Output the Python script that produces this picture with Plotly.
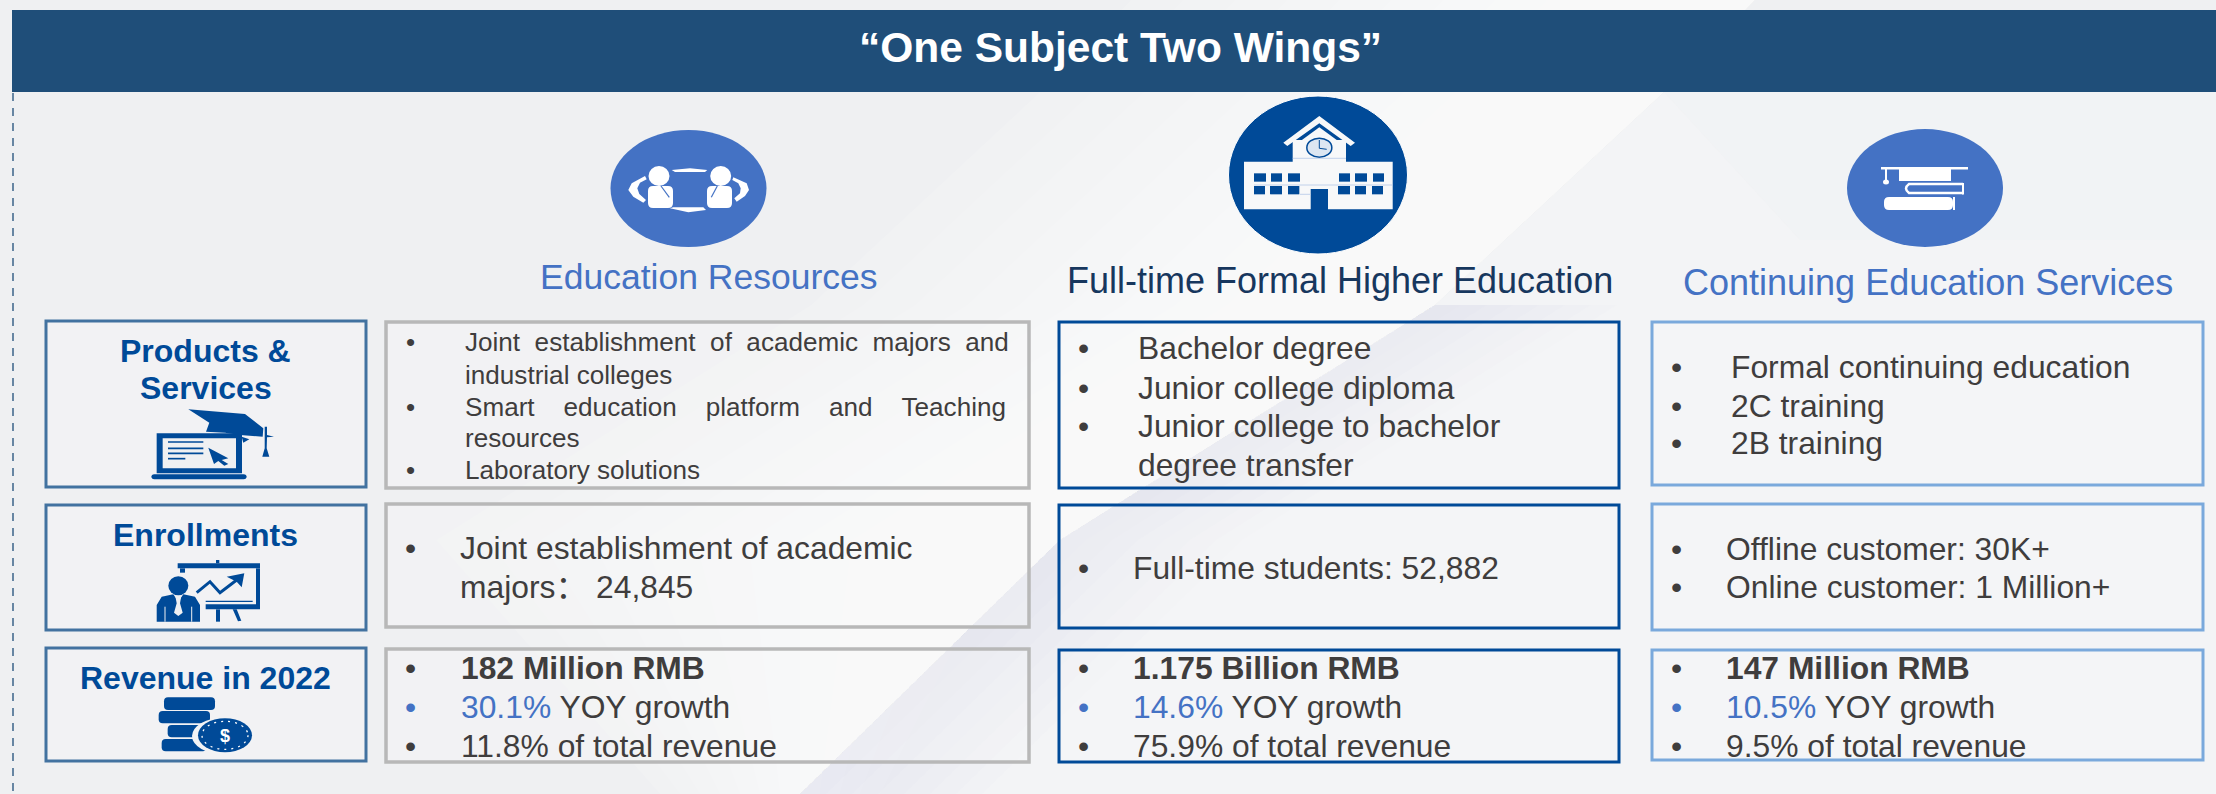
import plotly.graph_objects as go

# ---------- content ----------
title_text = "“One Subject Two Wings”"
section_titles = ["Education Resources", "Full-time Formal Higher Education", "Continuing Education Services"]
row_labels = [["Products &", "Services"], ["Enrollments"], ["Revenue in 2022"]]
NB = "\u00a0"
products_a = [
    ("•", f"Joint{NB*2}establishment{NB*2}of{NB*2}academic{NB*2}majors{NB*2}and"),
    ("", "industrial colleges"),
    ("•", f"Smart{NB*4}education{NB*4}platform{NB*4}and{NB*4}Teaching"),
    ("", "resources"),
    ("•", "Laboratory solutions"),
]
products_b = [("•", "Bachelor degree"), ("•", "Junior college diploma"),
              ("•", "Junior college to bachelor"), ("", "degree transfer")]
products_c = [("•", "Formal continuing education"), ("•", "2C training"), ("•", "2B training")]
enroll_a = [("•", "Joint establishment of academic"), ("", "majors： 24,845")]
enroll_b = [("•", "Full-time students: 52,882")]
enroll_c = [("•", "Offline customer: 30K+"), ("•", "Online customer: 1 Million+")]
revenue_values = ["182 Million RMB", "1.175 Billion RMB", "147 Million RMB"]
yoy_values = ["30.1%", "14.6%", "10.5%"]
share_values = ["11.8% of total revenue", "75.9% of total revenue", "9.5% of total revenue"]

# ---------- style ----------
FONT = "Liberation Sans, Arial, Noto Sans CJK SC, sans-serif"
NAVY = "#1F4E79"; BLUE = "#004A98"; MID = "#4472C4"; DARK = "#17375E"
TXT = "#3F3D3D"; GREY = "#B8B8B8"; LIGHT = "#7AA9DC"; LABEL = "#4272A0"
BODY = 31.8
shapes, ann = [], []

def poly(pts, fill, op=1.0, layer="above", close=True):
    d = "M " + " L ".join(f"{x:.1f},{y:.1f}" for x, y in pts) + (" Z" if close else "")
    shapes.append(dict(type="path", path=d, fillcolor=fill, opacity=op, layer=layer, line=dict(width=0)))

def rect(x0, y0, x1, y1, fill=None, line=None, w=0, op=1.0, rx=0):
    if rx:
        d = (f"M {x0+rx},{y0} L {x1-rx},{y0} Q {x1},{y0} {x1},{y0+rx} L {x1},{y1-rx} Q {x1},{y1} {x1-rx},{y1} "
             f"L {x0+rx},{y1} Q {x0},{y1} {x0},{y1-rx} L {x0},{y0+rx} Q {x0},{y0} {x0+rx},{y0} Z")
        shapes.append(dict(type="path", path=d, fillcolor=fill, line=dict(width=0)))
    else:
        shapes.append(dict(type="rect", x0=x0, y0=y0, x1=x1, y1=y1, fillcolor=fill or "rgba(0,0,0,0)", opacity=op,
                           line=dict(color=line or "rgba(0,0,0,0)", width=w)))

def ell(cx, cy, rx, ry, fill=None, line=None, w=0, dash=None):
    shapes.append(dict(type="circle", x0=cx-rx, x1=cx+rx, y0=cy-ry, y1=cy+ry,
                       fillcolor=fill or "rgba(0,0,0,0)",
                       line=dict(color=line or "rgba(0,0,0,0)", width=w, dash=dash or "solid")))

def stroke(pts, color, w, dash=None):
    d = "M " + " L ".join(f"{x:.1f},{y:.1f}" for x, y in pts)
    shapes.append(dict(type="path", path=d, line=dict(color=color, width=w, dash=dash or "solid")))

def text(x, y, s, size, color=TXT, bold=False, anchor="left"):
    if bold:
        s = f"<b>{s}</b>"
    ann.append(dict(x=x, y=y, xref="x", yref="y", text=s, showarrow=False, xanchor=anchor, yanchor="middle",
                    font=dict(family=FONT, size=size, color=color), borderpad=0, borderwidth=0))

def block(lines, ys, bx, tx, size):
    for (b, s), y in zip(lines, ys):
        if b:
            text(bx, y, b, size, TXT, anchor="center")
        text(tx, y, s, size)

# ---------- background: soft diagonal sheen ----------
edge = [(1755, 0), (1664, 92), (1435, 305), (1060, 540), (800, 794)]
poly([(1664, 92), (2216, 92), (2216, 794), (800, 794), (1060, 540), (1435, 305)], "#F4F5F6", 0.8, "below")
poly([(2216, 92), (1664, 92), (1800, 240), (2216, 240)], "#F0F1F3", 0.5, "below")
for k in range(1, 13):
    shifted = [(x - k * 52, y) for x, y in edge[:4]] + [(900 - k * 20, 794)]
    poly(edge + shifted[::-1], "#FFFFFF", 0.13, "below")
lower = edge[2:]
for k in range(1, 8):
    shifted = [(x + k * 26, y) for x, y in lower]
    poly(lower + shifted[::-1], "#D6D8DD", 0.045, "below")

# ---------- header ----------
rect(12, 10, 2216, 92, NAVY)
stroke([(13, 93), (13, 794)], NAVY, 1.3, "8px,7px")
text(1120, 47, title_text, 42.5, "#FFFFFF", True, "center")

# ---------- circles ----------
ell(688.5, 188.5, 78, 58.5, MID)
ell(1318, 175, 89.5, 79, BLUE, "#FFFFFF", 1)
ell(1925, 188, 78, 59, MID)

# people icon (white)
W = "#FFFFFF"
def Z3(p):
    return [(x / 3 + 600, y / 3 + 120) for x, y in p]
for hx, bx0, bx1, tie in [(659, 648, 673, [(183, 198), (208, 232)]), (720.7, 707, 732, [(352, 198), (334, 232)])]:
    ell(hx, 176, 10.5, 10, W)
    rect(bx0, 186, bx1, 208, W, rx=5)
    stroke(Z3(tie), MID, 1.2)
poly(Z3([(135, 168), (95, 190), (85, 210), (100, 230), (130, 248), (138, 240), (118, 222), (112, 205), (120, 188), (140, 178)]), W)
poly(Z3([(400, 172), (440, 190), (447, 210), (435, 228), (410, 245), (403, 235), (420, 220), (422, 205), (415, 190), (397, 180)]), W)
poly(Z3([(215, 150), (270, 145), (322, 150), (315, 156), (225, 156)]), W)
poly(Z3([(210, 265), (220, 262), (310, 262), (318, 270), (265, 277)]), W)

# school icon
def Z5(p):
    return [(x / 3 + 1180, y / 3 + 90) for x, y in p]
OFF = "#F7F8F9"
poly(Z5([(192, 215), (338, 215), (338, 150), (498, 150), (498, 215), (638, 215), (638, 358), (444, 358), (444, 297), (392, 297), (392, 358), (192, 358)]), OFF)
poly(Z5([(418, 78), (525, 158), (512, 168), (418, 100), (322, 168), (310, 158)]), OFF)
poly(Z5([(418, 112), (498, 170), (338, 170)]), OFF)
for row, y0, y1, xs in [
    (0, 250, 275, [(222, 258), (273, 306), (324, 360), (477, 510), (525, 561), (579, 612)]),
    (1, 288, 313, [(222, 255), (270, 306), (324, 358), (474, 510), (525, 558), (576, 609)]),
]:
    for a, b in xs:
        rect(a / 3 + 1180, y0 / 3 + 90, b / 3 + 1180, y1 / 3 + 90, BLUE)
ell(418 / 3 + 1180, 173 / 3 + 90, 12.5, 9.5, "#DCE6F2", BLUE, 1.5)
stroke(Z5([(418, 150), (418, 175), (440, 178)]), BLUE, 1)
for seg in [[(338, 205), (498, 205)], [(222, 285), (638, 285)], [(360, 313), (392, 313)]]:
    stroke(Z5(seg), "#B4C7E7", 0.8)

# books icon
rect(1881, 167, 1968, 169.5, W)
rect(1899, 169, 1951, 181, W)
stroke([(1886, 169), (1886, 181)], W, 2)
ell(1886, 182, 3, 2.5, W)
shapes.append(dict(type="path", line=dict(color=W, width=2.5),
                   path="M 1963,184 L 1909,184 Q 1903,188.5 1909,193 L 1963,193"))
stroke([(1963, 183), (1963, 194.5)], W, 2)
rect(1884, 197, 1953, 210, W, rx=5)
rect(1953, 197, 1955, 210, W)

# ---------- section titles ----------
text(708, 277, section_titles[0], 35.5, MID, anchor="center")
text(1340, 280, section_titles[1], 36, DARK, anchor="center")
text(1928, 282, section_titles[2], 36, MID, anchor="center")

# ---------- boxes ----------
BOXFILL = "rgba(247,248,249,0.3)"
for x0, x1, color, w, rows in [
    (46, 366, LABEL, 3, [(321, 487), (505, 630), (648, 761)]),
    (386, 1029, GREY, 3.5, [(322, 488), (504, 627), (649, 762)]),
    (1059, 1619, BLUE, 3, [(322, 488), (505, 628), (650, 762)]),
    (1652, 2203, LIGHT, 3, [(322, 485), (504, 630), (650, 760)]),
]:
    for y0, y1 in rows:
        rect(x0, y0, x1, y1, BOXFILL, color, w)

# ---------- row labels ----------
text(205.5, 351, row_labels[0][0], 32, BLUE, True, "center")
text(205.5, 388, row_labels[0][1], 32, BLUE, True, "center")
text(205.5, 535, row_labels[1][0], 32, BLUE, True, "center")
text(205.5, 678, row_labels[2][0], 32, BLUE, True, "center")

# ---------- body text ----------
block(products_a, [342, 375, 407, 438, 470], 410, 465, 26.1)
block(enroll_a, [548, 587], 410, 460, BODY)
block(products_b, [348, 388, 426, 465], 1083, 1138, BODY)
block(enroll_b, [568], 1083, 1133, BODY)
block(products_c, [367, 406, 443], 1676, 1731, BODY)
block(enroll_c, [549, 587], 1676, 1726, BODY)
for i, (bx, tx) in enumerate([(410, 461), (1083, 1133), (1676, 1726)]):
    text(bx, 668, "•", BODY, TXT, anchor="center")
    text(tx, 668, revenue_values[i], BODY, TXT, True)
    text(bx, 707, "•", BODY, MID, anchor="center")
    text(tx, 707, f'<span style="color:{MID}">{yoy_values[i]}</span> YOY growth', BODY)
    text(bx, 746, "•", BODY, TXT, anchor="center")
    text(tx, 746, share_values[i], BODY)

# ---------- label icons ----------
def Z6(p):
    return [(x / 3 + 40, y / 3 + 380) for x, y in p]
def r6(a, b, c, d, fill=BLUE, rx=0):
    rect(a / 3 + 40, b / 3 + 380, c / 3 + 40, d / 3 + 380, fill, rx=rx)
# laptop
r6(350, 160, 606, 280)
r6(368, 175, 588, 265, "#EFF0F2")
r6(334, 283, 620, 298, rx=3)
for y, xe in [(186, 490), (205, 490), (220, 490), (236, 436)]:
    r6(384, y - 2.5, xe, y + 2.5)
poly(Z6([(505, 203), (565, 235), (545, 240), (565, 252), (553, 257), (535, 243), (522, 252)]), BLUE)
poly(Z6([(445, 88), (615, 102), (670, 145), (668, 170), (600, 165), (555, 158), (498, 155), (508, 128)]), BLUE)
poly(Z6([(605, 170), (628, 178), (610, 188)]), BLUE)
poly(Z6([(674, 140), (681, 140), (681, 165), (702, 170), (681, 172), (680, 205), (688, 230), (667, 230), (674, 205)]), BLUE)
# presenter
ell(415 / 3 + 40, 617 / 3 + 380, 10, 9.5, BLUE)
poly(Z6([(350, 725), (350, 675), (365, 650), (400, 643), (415, 665), (430, 643), (465, 650), (480, 675), (480, 725)]), BLUE)
poly(Z6([(406, 648), (424, 648), (420, 670), (428, 698), (415, 708), (402, 698), (410, 670)]), "#EFF0F2")
stroke(Z6([(375, 680), (375, 725)]), "#EFF0F2", 1)
stroke(Z6([(455, 680), (455, 725)]), "#EFF0F2", 1)
r6(413, 550, 660, 565)
r6(528, 540, 538, 550)
r6(420, 565, 435, 578)
r6(648, 565, 660, 685)
r6(497, 673, 660, 688)
r6(497, 662, 638, 666)
r6(528, 688, 540, 725)
poly(Z6([(578, 688), (590, 688), (604, 722), (594, 724)]), BLUE)
stroke(Z6([(470, 638), (510, 605), (540, 638), (590, 600)]), BLUE, 3)
poly(Z6([(560, 590), (613, 580), (605, 622), (590, 605)]), BLUE)
# coins
r6(372, 952, 525, 990, rx=4)
r6(356, 993, 510, 1030, rx=4)
r6(383, 1035, 500, 1072, rx=4)
r6(365, 1077, 500, 1114, rx=4)
ell(552 / 3 + 40, 1068 / 3 + 380, 32, 18.5, "#F2F3F5")
ell(555 / 3 + 40, 1066 / 3 + 380, 27, 17, BLUE)
ell(555 / 3 + 40, 1066 / 3 + 380, 23, 14, None, "#FFFFFF", 1.3, "2px,5px")
text(555 / 3 + 40, 1067 / 3 + 380, "$", 18, "#FFFFFF", True, "center")

# ---------- figure ----------
fig = go.Figure()
fig.update_layout(
    width=2216, height=794, margin=dict(l=0, r=0, t=0, b=0), showlegend=False,
    paper_bgcolor="#EFF0F2", plot_bgcolor="rgba(0,0,0,0)", shapes=shapes, annotations=ann,
    xaxis=dict(range=[0, 2216], visible=False, fixedrange=True),
    yaxis=dict(range=[794, 0], visible=False, fixedrange=True),
)
fig.write_html("out.html", config={"displayModeBar": False},
               post_script="document.body.style.margin='0';document.body.style.overflow='hidden';")
